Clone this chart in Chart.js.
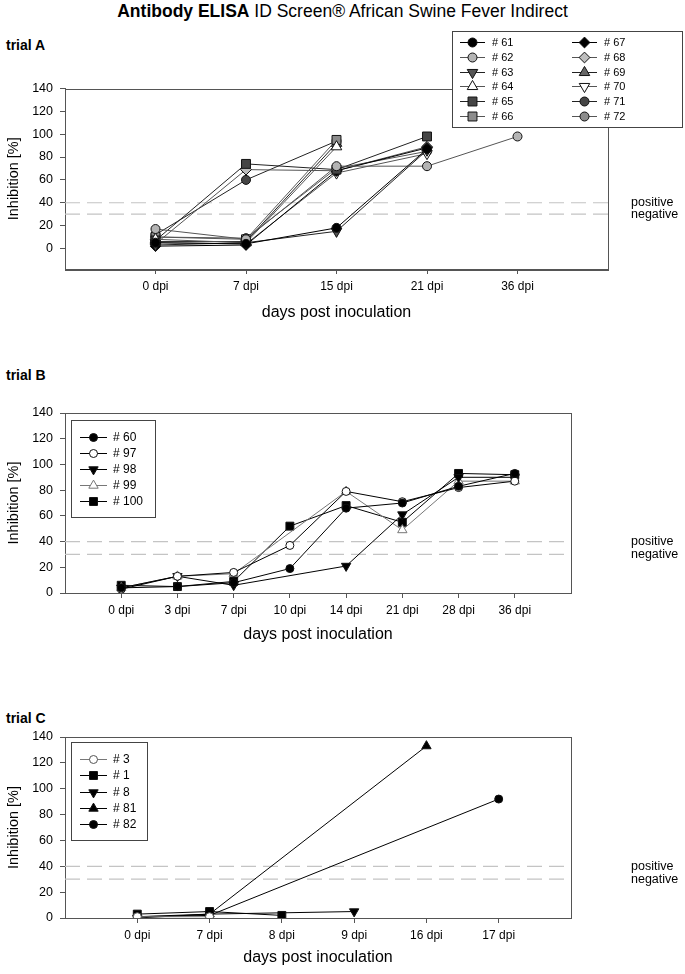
<!DOCTYPE html>
<html>
<head>
<meta charset="utf-8">
<title>Antibody ELISA ID Screen African Swine Fever Indirect</title>
<script src="https://cdn.jsdelivr.net/npm/chart.js@4.4.1/dist/chart.umd.min.js"></script>
<style>
  body { margin: 0; background: #fff; font-family: Arial, "Liberation Sans", sans-serif; }
  #page { position: relative; width: 685px; height: 974px; overflow: hidden; }
  canvas { position: absolute; left: 0; }
  .txt { position: absolute; white-space: nowrap; color: #000; line-height: 1; }
  #title { left: 0; width: 685px; text-align: center; top: 3px; font-size: 17.5px; }
  .trial { left: 6px; font-size: 14px; font-weight: bold; }
</style>
</head>
<body>
<div id="page">
  <div class="txt" id="title"><b>Antibody ELISA</b> ID Screen® African Swine Fever Indirect</div>
  <div class="txt trial" style="top:38px">trial A</div>
  <div class="txt trial" style="top:368px">trial B</div>
  <div class="txt trial" style="top:711px">trial C</div>
  <canvas id="chartA" width="685" height="305" style="top:25px"></canvas>
  <canvas id="chartB" width="685" height="290" style="top:360px"></canvas>
  <canvas id="chartC" width="685" height="284" style="top:690px"></canvas>
</div>
<script>
// cut-off lines of the test
const positiveCut = 40;
const negativeCut = 30;
const yTicks = [0, 20, 40, 60, 80, 100, 120, 140];

// trial A
const daysA = ["0 dpi", "7 dpi", "15 dpi", "21 dpi", "36 dpi"];
const pigsA = ["# 61", "# 62", "# 63", "# 64", "# 65", "# 66", "# 67", "# 68", "# 69", "# 70", "# 71", "# 72"];
const a61 = [5, 4, 18, 87, null];
const a62 = [17, 8, 72, 72, 98];
const a63 = [3, 5, 15, 86, null];
const a64 = [8, 5, 89, null, null];
const a65 = [7, 74, 69, 98, null];
const a66 = [10, 8, 95, null, null];
const a67 = [2, 3, 68, 88, null];
const a68 = [4, 69, 68, 89, null];
const a69 = [6, 6, 92, null, null];
const a70 = [5, 4, 66, 83, null];
const a71 = [12, 60, 94, null, null];
const a72 = [10, 9, 70, 85, null];

// trial B
const daysB = ["0 dpi", "3 dpi", "7 dpi", "10 dpi", "14 dpi", "21 dpi", "28 dpi", "36 dpi"];
const pigsB = ["# 60", "# 97", "# 98", "# 99", "# 100"];
const b60 = [4, 5, 8, 19, 66, 70, 83, 93];
const b97 = [3, 13, 16, 37, 79, 71, 82, 87];
const b98 = [4, 13, 6, null, 21, 61, 90, 90];
const b99 = [4, 13, 15, null, 79, 49, 87, 87];
const b100 = [6, 5, 9, 52, 68, 55, 93, 92];

// trial C
const daysC = ["0 dpi", "7 dpi", "8 dpi", "9 dpi", "16 dpi", "17 dpi"];
const pigsC = ["# 3", "# 1", "# 8", "# 81", "# 82"];
const c3 = [1, 1, null, null, null, null];
const c1 = [3, 5, 2, null, null, null];
const c8 = [0, 3, null, 5, null, null];
const c81 = [1, 3, null, null, 133, null];
const c82 = [1, 2, null, null, null, 92];

// marker looks
const stylesA = [
  { shape: "circle", fill: "#000", line: "#000" },
  { shape: "circle", fill: "#b4b4b4", line: "#555" },
  { shape: "triangle", rot: 180, fill: "#555", line: "#222" },
  { shape: "triangle", fill: "#fff", line: "#555" },
  { shape: "rect", fill: "#454545", line: "#222" },
  { shape: "rect", fill: "#8c8c8c", line: "#555" },
  { shape: "rectRot", fill: "#000", line: "#000" },
  { shape: "rectRot", fill: "#bdbdbd", line: "#555" },
  { shape: "triangle", fill: "#666", line: "#222" },
  { shape: "triangle", rot: 180, fill: "#fff", line: "#555" },
  { shape: "circle", fill: "#454545", line: "#222" },
  { shape: "circle", fill: "#8c8c8c", line: "#555" }
];
const stylesB = [
  { shape: "circle", fill: "#000", line: "#000" },
  { shape: "circle", fill: "#fff", line: "#000" },
  { shape: "triangle", rot: 180, fill: "#000", line: "#000" },
  { shape: "triangle", fill: "#fff", line: "#777", edge: "#777" },
  { shape: "rect", fill: "#000", line: "#000" }
];
const stylesC = [
  { shape: "circle", fill: "#fff", line: "#777", edge: "#555" },
  { shape: "rect", fill: "#000", line: "#000" },
  { shape: "triangle", rot: 180, fill: "#000", line: "#000" },
  { shape: "triangle", fill: "#000", line: "#000" },
  { shape: "circle", fill: "#000", line: "#000" }
];
const sizeOf = { circle: 1, triangle: 1.35, rect: 1.4, rectRot: 1.2 };

function points(vals) {
  return vals.map((v, i) => (v === null ? null : { x: i, y: v })).filter(p => p);
}

// box round the plot area
const frame = {
  id: "frame",
  beforeDatasetsDraw(chart) {
    const a = chart.chartArea, ctx = chart.ctx;
    ctx.save();
    ctx.strokeStyle = "#555";
    ctx.lineWidth = 1;
    ctx.strokeRect(Math.round(a.left) + 0.5, Math.round(a.top) + 0.5,
      Math.round(a.right - a.left), Math.round(a.bottom - a.top));
    ctx.restore();
  }
};

// "positive" / "negative" next to the cut-off lines
const cutLabels = {
  id: "cutLabels",
  afterDraw(chart) {
    const ctx = chart.ctx, y = chart.scales.y;
    ctx.save();
    ctx.font = "12.5px Arial, 'Liberation Sans', sans-serif";
    ctx.fillStyle = "#000";
    ctx.textBaseline = "middle";
    ctx.fillText("positive", 631, y.getPixelForValue(positiveCut));
    ctx.fillText("negative", 631, y.getPixelForValue(negativeCut));
    ctx.restore();
  }
};

// framed legend, filled column by column
const boxLegend = {
  id: "boxLegend",
  afterDraw(chart, args, o) {
    const ctx = chart.ctx;
    const sets = chart.data.datasets.filter(d => !d.ref);
    ctx.save();
    ctx.fillStyle = "#fff";
    ctx.fillRect(o.x, o.y, o.w, o.h);
    ctx.strokeStyle = "#444";
    ctx.lineWidth = 1;
    ctx.strokeRect(o.x + 0.5, o.y + 0.5, o.w, o.h);
    ctx.font = o.font + "px Arial, 'Liberation Sans', sans-serif";
    ctx.textBaseline = "middle";
    sets.forEach((d, k) => {
      const col = Math.floor(k / o.rows), row = k % o.rows;
      const x0 = o.lineX + col * o.colW;
      const yy = Math.round(o.rowY + row * o.rowH) + 0.5;
      ctx.strokeStyle = d.borderColor;
      ctx.lineWidth = 1;
      ctx.beginPath();
      ctx.moveTo(x0, yy);
      ctx.lineTo(x0 + o.lineLen, yy);
      ctx.stroke();
      ctx.fillStyle = d.pointBackgroundColor;
      ctx.strokeStyle = d.pointBorderColor;
      Chart.helpers.drawPoint(ctx, {
        pointStyle: d.pointStyle, rotation: d.pointRotation,
        radius: d.pointRadius, borderWidth: 1
      }, x0 + o.lineLen / 2, yy);
      ctx.fillStyle = "#000";
      ctx.fillText(d.label, x0 + o.textOff, yy);
    });
    ctx.restore();
  }
};

function makePanel(id, o) {
  const n = o.cats.length;
  const datasets = o.series.map((vals, k) => {
    const st = o.styles[k];
    return {
      label: o.names[k],
      data: points(vals),
      borderColor: st.line,
      borderWidth: 1,
      pointStyle: st.shape,
      pointRotation: st.rot || 0,
      pointRadius: o.r * sizeOf[st.shape],
      pointBackgroundColor: st.fill,
      pointBorderColor: st.edge || "#111",
      pointBorderWidth: 1,
      order: 1
    };
  });
  [positiveCut, negativeCut].forEach(c => datasets.push({
    label: "", ref: true,
    data: [{ x: -1, y: c }, { x: n, y: c }],
    borderColor: "#c4c4c4", borderWidth: 1.2, borderDash: [15, 7],
    pointRadius: 0, order: 5
  }));

  new Chart(document.getElementById(id), {
    type: "line",
    data: { datasets },
    options: {
      responsive: false,
      animation: false,
      events: [],
      layout: { padding: { left: 0, right: 685 - o.right, top: o.top, bottom: o.bottom } },
      plugins: {
        legend: { display: false },
        tooltip: { enabled: false },
        boxLegend: o.legend
      },
      scales: {
        x: {
          type: "linear", min: -1, max: n,
          afterBuildTicks: s => { s.ticks = o.cats.map((c, i) => ({ value: i })); },
          afterFit: s => { s.height = o.xh; },
          ticks: { callback: v => o.cats[v], color: "#000", font: { size: 12 }, padding: 5, maxRotation: 0, autoSkip: false },
          grid: { drawOnChartArea: false, tickLength: 5, color: "#555" },
          border: { color: "#555" },
          title: { display: true, text: "days post inoculation", color: "#000", font: { size: 16 }, padding: 0 }
        },
        y: {
          min: o.ymin, max: 140,
          afterBuildTicks: s => { s.ticks = yTicks.map(v => ({ value: v })); },
          afterFit: s => { s.width = 65; },
          ticks: { color: "#000", font: { size: 12.5 }, padding: 7 },
          grid: { drawOnChartArea: false, tickLength: 5, color: "#555" },
          border: { color: "#555" },
          title: { display: true, text: "Inhibition [%]", color: "#000", font: { size: 14.5 }, padding: { top: 5, bottom: 0 } }
        }
      }
    },
    plugins: [frame, cutLabels, boxLegend]
  });
}

makePanel("chartA", {
  cats: daysA, names: pigsA, styles: stylesA,
  series: [a61, a62, a63, a64, a65, a66, a67, a68, a69, a70, a71, a72],
  r: 4.5, ymin: -18, right: 608, top: 63.5, bottom: 8, xh: 53,
  legend: { x: 452, y: 6, w: 230, h: 96, rows: 6, colW: 112, rowY: 17, rowH: 14.8, lineX: 460, lineLen: 25, textOff: 32, font: 11 }
});
makePanel("chartB", {
  cats: daysB, names: pigsB, styles: stylesB,
  series: [b60, b97, b98, b99, b100],
  r: 4, ymin: 0, right: 571, top: 53, bottom: 6, xh: 51,
  legend: { x: 71, y: 60, w: 84, h: 97, rows: 5, colW: 0, rowY: 76.7, rowH: 16.1, lineX: 80, lineLen: 27, textOff: 33, font: 12 }
});
makePanel("chartC", {
  cats: daysC, names: pigsC, styles: stylesC,
  series: [c3, c1, c8, c81, c82],
  r: 4, ymin: 0, right: 571, top: 47, bottom: 7, xh: 49,
  legend: { x: 71, y: 52, w: 76, h: 98, rows: 5, colW: 0, rowY: 69, rowH: 16.25, lineX: 80, lineLen: 27, textOff: 33, font: 12 }
});
</script>
</body>
</html>
